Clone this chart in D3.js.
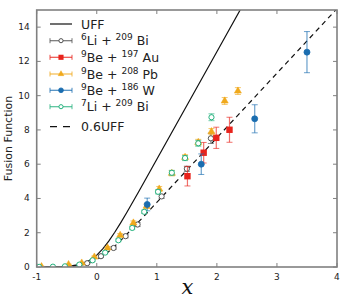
<!DOCTYPE html>
<html lang="en">
<head>
  <meta charset="UTF-8">
  <title>Fusion Function</title>
  <script src="https://d3js.org/d3.v7.min.js"></script>
  <style>
    body { margin: 0; background: #fff; }
    text { font-family: "DejaVu Sans", sans-serif; }
  </style>
</head>
<body>
  <svg id="chart" width="357" height="300"></svg>

  <script>
    // UFF curve samples, F(x)
    const uffX = [-1, -0.8, -0.6, -0.5, -0.4, -0.3, -0.2, -0.1, 0, 0.1, 0.2, 0.3, 0.4, 0.5, 0.6, 0.7, 0.8, 1.0, 1.2, 1.5, 2.0, 2.5]
    const uffY = [0.002, 0.007, 0.023, 0.042, 0.078, 0.141, 0.251, 0.428, 0.693, 1.056, 1.507, 2.026, 2.591, 3.184, 3.793, 4.411, 5.033, 6.285, 7.540, 9.425, 12.566, 15.708]
    // 0.6 UFF samples (dashed line)
    const uff6X = [-1, -0.8, -0.6, -0.5, -0.4, -0.3, -0.2, -0.1, 0, 0.1, 0.2, 0.3, 0.4, 0.5, 0.6, 0.7, 0.8, 1.0, 1.2, 1.5, 2.0, 3.0, 4.0]
    const uff6Y = [0.001, 0.004, 0.014, 0.025, 0.047, 0.085, 0.150, 0.257, 0.416, 0.634, 0.904, 1.216, 1.555, 1.910, 2.276, 2.646, 3.020, 3.771, 4.524, 5.655, 7.540, 11.310, 15.080]

    const li6BiX = [-0.16, 0.07, 0.28, 0.48, 0.68, 1.08, 1.50, 1.90]
    const li6BiY = [0.22, 0.63, 1.11, 1.80, 2.48, 4.12, 5.73, 7.51]
    const li6BiE = [0.05, 0.08, 0.08, 0.1, 0.12, 0.12, 0.15, 0.3]

    const be9AuX = [1.51, 1.78, 1.99, 2.21]
    const be9AuY = [5.30, 6.67, 7.54, 8.01]
    const be9AuE = [0.57, 0.6, 0.62, 0.73]

    const be9PbX = [-0.92, -0.47, -0.25, -0.04, 0.18, 0.39, 0.61, 0.83, 1.04, 1.25, 1.47, 1.69, 1.91, 2.13, 2.35]
    const be9PbY = [0.02, 0.14, 0.23, 0.58, 1.11, 1.85, 2.57, 3.55, 4.55, 5.47, 6.40, 7.27, 7.90, 9.69, 10.27]
    const be9PbE = [0.02, 0.03, 0.04, 0.06, 0.08, 0.1, 0.12, 0.14, 0.15, 0.15, 0.15, 0.18, 0.18, 0.2, 0.2]

    const be9WX = [0.84, 1.74, 2.63, 3.50]
    const be9WY = [3.65, 6.00, 8.65, 12.54]
    const be9WE = [0.37, 0.6, 0.82, 1.2]

    const li7BiX = [-0.96, -0.73, -0.53, -0.29, -0.07, 0.14, 0.36, 0.59, 0.79, 1.02, 1.25, 1.47, 1.69, 1.91]
    const li7BiY = [0.01, 0.02, 0.04, 0.14, 0.39, 0.84, 1.56, 2.28, 3.22, 4.39, 5.50, 6.36, 7.22, 8.74]
    const li7BiE = [0.01, 0.01, 0.02, 0.03, 0.05, 0.07, 0.08, 0.1, 0.1, 0.12, 0.14, 0.15, 0.17, 0.2]

    const xTicks = [-1, 0, 1, 2, 3, 4]
    const yTicks = [0, 2, 4, 6, 8, 10, 12, 14]

    const zip = (xs, ys, es) => xs.map((x, i) => ({ x: x, y: ys[i], e: es ? es[i] : 0 }))

    const series = [
      { a: "6", p: "Li", b: "209", t: "Bi", color: "#505050", shape: "circle", open: true, data: zip(li6BiX, li6BiY, li6BiE) },
      { a: "9", p: "Be", b: "197", t: "Au", color: "#e8231c", shape: "square", open: false, data: zip(be9AuX, be9AuY, be9AuE) },
      { a: "9", p: "Be", b: "208", t: "Pb", color: "#f0a91c", shape: "triangle", open: false, data: zip(be9PbX, be9PbY, be9PbE) },
      { a: "9", p: "Be", b: "186", t: "W", color: "#1a6db0", shape: "circle", open: false, data: zip(be9WX, be9WY, be9WE) },
      { a: "7", p: "Li", b: "209", t: "Bi", color: "#25b27e", shape: "circle", open: true, data: zip(li7BiX, li7BiY, li7BiE) }
    ]

    const margin = { top: 10, right: 20, bottom: 33, left: 36.7 }
    const width = 357 - margin.left - margin.right
    const height = 300 - margin.top - margin.bottom

    const svg = d3.select("#chart")
    const g = svg.append("g")
      .attr("transform", "translate(" + margin.left + "," + margin.top + ")")

    const x = d3.scaleLinear().domain([-1, 4]).range([0, width])
    const y = d3.scaleLinear().domain([0, 15]).range([height, 0])

    g.append("clipPath").attr("id", "clip")
      .append("rect").attr("width", width).attr("height", height)

    // ticks (inward, mirrored)
    const tickLen = 4
    const frameColor = "#808080"
    xTicks.forEach(t => {
      g.append("line").attr("x1", x(t)).attr("x2", x(t)).attr("y1", height).attr("y2", height - tickLen)
        .attr("stroke", frameColor).attr("stroke-width", 1)
      g.append("line").attr("x1", x(t)).attr("x2", x(t)).attr("y1", 0).attr("y2", tickLen)
        .attr("stroke", frameColor).attr("stroke-width", 1)
      g.append("text").attr("x", x(t)).attr("y", height + 13)
        .attr("text-anchor", "middle").attr("font-size", "9px").attr("fill", "#222")
        .text(t)
    })
    yTicks.forEach(t => {
      g.append("line").attr("x1", 0).attr("x2", tickLen).attr("y1", y(t)).attr("y2", y(t))
        .attr("stroke", frameColor).attr("stroke-width", 1)
      g.append("line").attr("x1", width).attr("x2", width - tickLen).attr("y1", y(t)).attr("y2", y(t))
        .attr("stroke", frameColor).attr("stroke-width", 1)
      g.append("text").attr("x", -7).attr("y", y(t) + 3)
        .attr("text-anchor", "end").attr("font-size", "9px").attr("fill", "#222")
        .text(t)
    })

    const plot = g.append("g").attr("clip-path", "url(#clip)")

    const line = d3.line().x(d => x(d.x)).y(d => y(d.y))

    plot.append("path")
      .datum(zip(uffX, uffY))
      .attr("fill", "none").attr("stroke", "#111").attr("stroke-width", 1.2)
      .attr("d", line)

    plot.append("path")
      .datum(zip(uff6X, uff6Y))
      .attr("fill", "none").attr("stroke", "#111").attr("stroke-width", 1.2)
      .attr("stroke-dasharray", "5,4")
      .attr("d", line)

    function drawMarker(sel, s, cx, cy, k) {
      k = k || 1
      if (s.shape === "circle") {
        sel.append("circle").attr("cx", cx).attr("cy", cy).attr("r", (s.open ? 2.6 : 3) * k)
          .attr("fill", s.open ? "#fff" : s.color)
          .attr("stroke", s.color).attr("stroke-width", s.open ? 1 : 0.8)
      } else if (s.shape === "square") {
        sel.append("rect").attr("x", cx - 3.2 * k).attr("y", cy - 3.2 * k).attr("width", 6.4 * k).attr("height", 6.4 * k)
          .attr("fill", s.color)
      } else {
        sel.append("path")
          .attr("transform", "translate(" + cx + "," + cy + ")")
          .attr("d", d3.symbol(d3.symbolTriangle, 22 * k * k)())
          .attr("fill", s.color).attr("stroke", s.color).attr("stroke-width", 0.5)
      }
    }

    series.forEach(s => {
      const sg = plot.append("g")
      s.data.forEach(d => {
        const cx = x(d.x)
        sg.append("line").attr("x1", cx).attr("x2", cx).attr("y1", y(d.y - d.e)).attr("y2", y(d.y + d.e))
          .attr("stroke", s.color).attr("stroke-opacity", 0.65).attr("stroke-width", 1.2)
        ;[d.y - d.e, d.y + d.e].forEach(v => {
          sg.append("line").attr("x1", cx - 3).attr("x2", cx + 3).attr("y1", y(v)).attr("y2", y(v))
            .attr("stroke", s.color).attr("stroke-opacity", 0.65).attr("stroke-width", 1)
        })
        drawMarker(sg, s, cx, y(d.y))
      })
    })

    // frame
    g.append("rect").attr("width", width).attr("height", height)
      .attr("fill", "none").attr("stroke", frameColor).attr("stroke-width", 1.6)

    // legend
    const lg = svg.append("g")
    const lx1 = 50, lx2 = 72, tx = 81
    const rows = [24, 40.7, 57.3, 74, 90.3, 106.7, 126.7]

    lg.append("line").attr("x1", lx1).attr("x2", lx2).attr("y1", rows[0]).attr("y2", rows[0])
      .attr("stroke", "#111").attr("stroke-width", 1.2)
    lg.append("text").attr("x", tx).attr("y", rows[0] + 4.5).attr("font-size", "12.5px").attr("fill", "#222").text("UFF")

    series.forEach((s, i) => {
      const ry = rows[i + 1]
      lg.append("line").attr("x1", lx1).attr("x2", lx2).attr("y1", ry).attr("y2", ry)
        .attr("stroke", s.color).attr("stroke-opacity", 0.8).attr("stroke-width", 1.2)
      ;[lx1, lx2].forEach(ex => {
        lg.append("line").attr("x1", ex).attr("x2", ex).attr("y1", ry - 2.5).attr("y2", ry + 2.5)
          .attr("stroke", s.color).attr("stroke-opacity", 0.8).attr("stroke-width", 1)
      })
      drawMarker(lg, s, (lx1 + lx2) / 2, ry, 0.8)
      const t = lg.append("text").attr("x", tx).attr("y", ry + 4.5).attr("font-size", "12.5px").attr("fill", "#222")
      t.append("tspan").attr("font-size", "9px").attr("dy", -5).text(s.a)
      t.append("tspan").attr("dy", 5).text(s.p + " + ")
      t.append("tspan").attr("font-size", "9px").attr("dy", -5).text(s.b)
      t.append("tspan").attr("dy", 5).text(" " + s.t)
    })

    lg.append("line").attr("x1", lx1).attr("x2", lx2).attr("y1", rows[6]).attr("y2", rows[6])
      .attr("stroke", "#111").attr("stroke-width", 1.2).attr("stroke-dasharray", "7,6")
    lg.append("text").attr("x", tx).attr("y", rows[6] + 4.5).attr("font-size", "12.5px").attr("fill", "#222").text("0.6UFF")

    // axis labels
    svg.append("text")
      .attr("x", margin.left + width / 2 + 0.5).attr("y", 294)
      .attr("text-anchor", "middle")
      .style("font-family", "'DejaVu Serif', serif").style("font-style", "italic")
      .attr("font-size", "21px").attr("fill", "#111")
      .text("x")

    svg.append("text")
      .attr("transform", "translate(12," + (margin.top + height / 2) + ") rotate(-90)")
      .attr("text-anchor", "middle").attr("font-size", "11px").attr("fill", "#222")
      .text("Fusion Function")
  </script>
</body>
</html>
